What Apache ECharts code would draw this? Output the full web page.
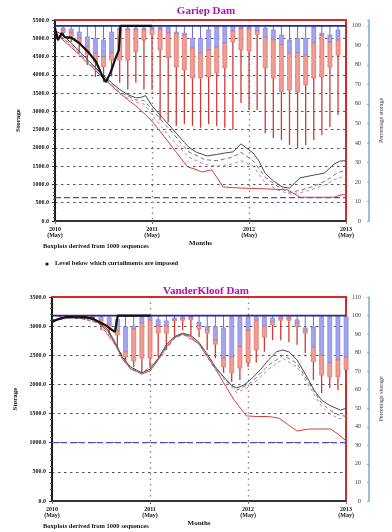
<!DOCTYPE html>
<html><head><meta charset="utf-8">
<script src="https://cdn.jsdelivr.net/npm/echarts@6/dist/echarts.min.js"></script>
<style>html,body{margin:0;padding:0;background:#fff}#c{width:392px;height:532px}</style>
</head><body><div id="c"></div><script>
// ---- shared axis text ----
const xTickLabels = ['2010\n(May)', '2011\n(May)', '2012\n(May)', '2013\n(May)'];

// ---- Gariep Dam (million m3) ----
const gariepCapacity = 5340;
const gariepCurtail = 640;
const gariepBoxMonth = [1,2,3,4,5,6,7,8,9,10,11,12,13,14,15,16,17,18,19,20,21,22,23,24,25,26,27,28,29,30,31,32,33,34,35];
const gariepQ3  = [5280,5250,5170,5040,5000,4950,5170,5280,5280,5280,5280,5300,5300,5300,5170,5140,5000,5000,5230,5310,5310,5320,5310,5310,5300,5280,5230,5090,4950,5000,5000,5310,5140,5090,5230];
const gariepMed = [5220,5150,5000,4770,4590,4490,4600,5230,5230,5230,5230,5250,5250,5140,5120,5090,4730,4600,4680,4760,4870,5200,5260,5260,5200,5030,4950,4820,4600,4600,4540,4870,5090,4900,4950];
const gariepQ1  = [5150,5050,4870,4550,4350,4220,4400,4400,4400,4630,4950,5100,4680,4460,4210,4130,3910,3910,3940,4050,4190,4900,4680,4650,5100,4190,3910,3530,3580,3530,3720,3910,3940,4210,4540];
const gariepMin = [5090,4900,4600,4270,3940,3800,3950,3780,3600,3780,3600,3580,2760,2700,2600,2650,2600,2550,2650,2600,2550,2500,3230,3040,3040,2400,2270,2215,2080,2000,2080,2215,2350,2570,2900];
const gariepObserved = [[0,5280],[0.35,4950],[0.85,5140],[1.2,5030],[2,5020],[3,4870],[4.2,4600],[5.1,4350],[5.8,3990],[6.3,3800],[6.9,4080],[7.5,4460],[7.9,4680],[8.1,5340],[12,5340]];
const gariepMedian = [[0,5200],[0.5,5150],[1,5080],[2,4870],[3,4650],[4,4420],[5,4200],[6,3980],[7,3780],[8,3600],[9,3460],[10,3370],[10.6,3380],[11.2,3430],[12,3150],[13,2900],[14,2650],[15,2400],[16,2150],[16.5,2030],[17.5,1880],[18.8,1780],[20,1820],[21,1860],[22,1890],[23,2110],[24.5,1860],[25.2,1650],[26,1300],[27,1100],[28.1,930],[29,900],[30.3,1180],[32.1,1260],[33.3,1310],[34.5,1550],[35.2,1640],[36,1650]];
const gariepMean = [[0,5180],[2,4820],[4,4380],[6,3950],[8,3530],[10,3310],[11,3300],[12,3050],[14,2550],[16.5,1900],[18.5,1680],[20,1650],[22,1750],[23,1880],[24.5,1650],[26,1200],[27.5,950],[29,780],[30.5,850],[32,950],[33.5,1100],[35,1330],[36,1380]];
const gariepUpperMean = [[0,5170],[2,4800],[4,4350],[6,3920],[8,3480],[10,3250],[11,3200],[12,2900],[14,2350],[16.5,1750],[18.5,1550],[20,1500],[22,1560],[23,1650],[24.5,1500],[26,1050],[27.5,850],[29,740],[30.5,780],[32,880],[33.5,1000],[35,1180],[36,1220]];
const gariepLow = [[0,5150],[1,4950],[2,4750],[3,4550],[4,4330],[5,4120],[6,3900],[7,3700],[8,3500],[9,3320],[10,3150],[11,2950],[12,2730],[13,2450],[14,2170],[15,1880],[16.4,1480],[17.3,1420],[18.2,1340],[19.4,1400],[20.8,930],[23,900],[26,880],[28.8,850],[30.3,650],[34.5,650],[35.5,720],[36,720]];

// ---- VanderKloof Dam (million m3) ----
const vkCapacity = 3180;
const vkCurtail = 1000;
const vkBoxMonth = [1,2,3,4,5,6,7,8,9,10,11,12,13,14,15,16,17,18,19,20,21,22,23,24,25,26,27,28,29,30,31,32,33,34,35,36];
const vkQ3  = [3178,3178,3178,3175,3175,3170,3150,3120,2990,3000,3150,3170,3110,3090,3140,3160,3165,3070,2990,2990,2970,3160,3160,3160,3160,3160,3140,3160,3160,3110,2970,2990,3160,3160,3160,3160];
const vkMed = [3170,3168,3165,3160,3160,3100,3030,2920,2560,2950,3050,3100,3000,3000,3110,3130,3140,3010,2940,2760,2450,2470,2650,2930,3100,3000,3080,3130,3130,3050,2920,2640,2500,2370,2420,2470];
const vkQ1  = [3160,3158,3150,3145,3140,3060,2980,2850,2470,2400,2450,2450,2880,2880,3090,3100,3110,2950,2880,2690,2300,2200,2280,2370,2590,2810,3020,3100,3100,2990,2880,2390,2160,2130,2130,2250];
const vkMin = [3140,3130,3120,3100,3080,2930,2850,2620,2390,2300,2215,2280,2470,2590,2810,2930,2850,2810,2590,2450,2200,2040,2075,2300,2370,2560,2760,2760,2730,2680,2540,2075,1850,1940,1900,2000];
const vkObserved = [[0,3070],[0.6,3110],[1.8,3160],[3,3150],[4,3155],[5.1,3120],[6.5,3020],[7.2,2950],[7.7,2900],[8.05,3180],[12,3180]];
const vkMedian = [[0,3100],[1.5,3150],[3,3160],[5,3150],[5.7,3070],[6.9,2930],[7.8,2700],[8.6,2470],[9.6,2300],[11,2200],[12,2260],[13,2450],[14,2680],[15,2820],[16,2880],[17,2840],[18,2720],[19,2520],[20,2300],[21,2130],[22,1980],[22.6,1940],[23.5,1990],[24.3,2080],[25.5,2250],[26.5,2420],[27.5,2560],[28.2,2590],[29,2560],[30,2420],[31,2180],[32.1,1900],[33,1730],[34,1640],[35.3,1560],[36,1590]];
const vkMean = [[0,3100],[3,3155],[5.7,3060],[7.8,2680],[9.6,2280],[11,2190],[13,2430],[15,2800],[16,2870],[18,2700],[20,2270],[22.6,1900],[24.3,2020],[26.5,2330],[28.3,2500],[30,2360],[32,1900],[33,1680],[34,1560],[35,1480],[36,1450]];
const vkUpperMean = [[0,3100],[3,3150],[5.7,3050],[7.8,2660],[9.6,2260],[11,2180],[13,2420],[15,2790],[16,2860],[18,2690],[20,2250],[22.6,1860],[24.3,1970],[26.5,2260],[28.3,2440],[30,2300],[32,1850],[33,1620],[34,1500],[35,1420],[36,1400]];
const vkLow = [[0,3090],[1.5,3140],[3,3150],[5,3140],[5.7,3050],[6.9,2900],[7.8,2670],[8.6,2440],[9.6,2270],[11,2180],[12,2230],[13,2420],[14,2650],[15,2800],[16,2860],[17,2820],[18,2690],[19,2480],[20,2270],[21,2030],[22.3,1730],[23.8,1460],[25,1450],[26.5,1450],[27.8,1420],[29,1300],[30,1200],[31.4,1235],[34.1,1235],[35,1150],[36,1030]];

// ---- styling helpers ----
const SERIF = "'Liberation Serif','DejaVu Serif',serif";
const boldText = (size) => ({ fontFamily: SERIF, fontWeight: 'bold', fontSize: size, color: '#111' });

function boxRenderer(capacity) {
  return function (params, api) {
    const m = api.value(0);
    const pTop = api.coord([m, capacity]);
    const pQ3 = api.coord([m, api.value(1)]);
    const pMed = api.coord([m, api.value(2)]);
    const pQ1 = api.coord([m, api.value(3)]);
    const pLo = api.coord([m, api.value(4)]);
    const w = api.size([1, 0])[0] * 0.5;
    const x = pQ3[0];
    return {
      type: 'group',
      children: [
        { type: 'line', shape: { x1: x, y1: pTop[1], x2: x, y2: pQ3[1] }, style: { stroke: '#6b6bd6', lineWidth: 1 } },
        { type: 'line', shape: { x1: x, y1: pQ1[1], x2: x, y2: pLo[1] }, style: { stroke: '#d03838', lineWidth: 1.3 } },
        { type: 'rect', shape: { x: x - w / 2, y: pQ3[1], width: w, height: pMed[1] - pQ3[1] }, style: { fill: '#a3a3ee', stroke: '#7c7cdc', lineWidth: 0.6 } },
        { type: 'rect', shape: { x: x - w / 2, y: pMed[1], width: w, height: pQ1[1] - pMed[1] }, style: { fill: '#f09c92', stroke: '#d8665c', lineWidth: 0.6 } }
      ]
    };
  };
}

function bottomAxis(grid) {
  return {
    gridIndex: grid, type: 'value', min: 0, max: 36, interval: 12,
    axisLine: { onZero: false, lineStyle: { color: '#333', width: 2 } },
    axisTick: { show: true, length: 3, lineStyle: { color: '#777' } },
    axisLabel: { ...boldText(6), lineHeight: 6.5, margin: 5, formatter: v => xTickLabels[v / 12] },
    splitLine: { show: true, lineStyle: { color: '#8a8a8a', type: [1.5, 4], width: 1.4 } },
    name: 'Months', nameLocation: 'middle', nameGap: 11, nameTextStyle: boldText(7)
  };
}
function topBorder(grid) {
  return {
    gridIndex: grid, type: 'value', min: 0, max: 36, position: 'top',
    axisLine: { onZero: false, lineStyle: { color: '#d42a2a', width: 2 } },
    axisTick: { show: false }, axisLabel: { show: false }, splitLine: { show: false }
  };
}
function storageAxis(grid, max, gap) {
  return {
    gridIndex: grid, type: 'value', min: 0, max: max, interval: 500, position: 'left',
    axisLine: { show: true, onZero: false, lineStyle: { color: '#1a1a1a', width: 2 } },
    axisTick: { show: true, length: 3, lineStyle: { color: '#333' } },
    minorTick: { show: true, splitNumber: 5, length: 2, lineStyle: { color: '#555' } },
    axisLabel: { ...boldText(6), margin: 6, formatter: v => v.toFixed(1) },
    splitLine: { show: true, lineStyle: { color: '#555', type: [2.5, 3.5], width: 1 } },
    name: 'Storage', nameLocation: 'middle', nameGap: gap, nameRotate: 90, nameTextStyle: boldText(7)
  };
}
function percentAxis(grid, max) {
  return {
    gridIndex: grid, type: 'value', min: 0, max: max, interval: 10, position: 'right', offset: 23,
    axisLine: { show: true, onZero: false, lineStyle: { color: '#79a9dc', width: 1.5 } },
    axisTick: { show: true, inside: true, length: 2, lineStyle: { color: '#79a9dc' } },
    axisLabel: { inside: true, margin: 8, fontFamily: SERIF, fontSize: 6, color: '#333',
      formatter: v => (v % 10 === 0 ? String(v) : '') },
    splitLine: { show: false },
    name: 'Percentage storage', nameLocation: 'middle', nameGap: 8, nameRotate: 90,
    nameTextStyle: { fontFamily: SERIF, fontSize: 6, color: '#333' }
  };
}
function rightBorder(grid, max) {
  return {
    gridIndex: grid, type: 'value', min: 0, max: max, position: 'right', offset: 0,
    axisLine: { show: true, onZero: false, lineStyle: { color: '#d42a2a', width: 2 } },
    axisTick: { show: false }, axisLabel: { show: false }, splitLine: { show: false }
  };
}

function lineSeries(xi, yi, data, color, width, type, z) {
  return { type: 'line', xAxisIndex: xi, yAxisIndex: yi, data: data, showSymbol: false, silent: true,
    lineStyle: { color: color, width: width, type: type }, z: z };
}

function damSeries(xi, yi, months, q3, med, q1, lo, capacity, curtail, observed, median, mean, upperMean, low) {
  return [
    { type: 'custom', xAxisIndex: xi, yAxisIndex: yi, renderItem: boxRenderer(capacity), silent: true, z: 2,
      encode: { x: 0, y: [1, 2, 3, 4] },
      data: months.map((m, i) => [m, q3[i], med[i], q1[i], lo[i]]) },
    lineSeries(xi, yi, [[0, capacity], [36, capacity]], '#272790', 1.6, 'solid', 3),
    lineSeries(xi, yi, [[0, curtail], [36, curtail]], '#4a4ad6', 1.2, [6, 3], 3),
    lineSeries(xi, yi, low, '#d24040', 1, 'solid', 4),
    lineSeries(xi, yi, upperMean, '#c878c8', 1, [3, 3], 4),
    lineSeries(xi, yi, mean, '#777', 1, [4, 3], 4),
    lineSeries(xi, yi, median, '#4a4a4a', 1, 'solid', 5),
    lineSeries(xi, yi, observed, '#111', 2.2, 'solid', 6)
  ];
}

const chart = echarts.init(document.getElementById('c'), null, { renderer: 'canvas' });
chart.setOption({
  animation: false,
  backgroundColor: '#fff',
  title: [
    { text: 'Gariep Dam', left: 201, top: 1, textAlign: 'center',
      textStyle: { fontFamily: SERIF, fontWeight: 'bold', fontSize: 11, color: '#b010b8' } },
    { text: 'VanderKloof Dam', left: 201, top: 281, textAlign: 'center',
      textStyle: { fontFamily: SERIF, fontWeight: 'bold', fontSize: 11, color: '#b010b8' } }
  ],
  grid: [
    { left: 55, top: 20, width: 297, height: 201 },
    { left: 52, top: 297, width: 304, height: 204 }
  ],
  xAxis: [bottomAxis(0), topBorder(0), bottomAxis(1), topBorder(1)],
  yAxis: [
    storageAxis(0, 5500, 27), percentAxis(0, 103), rightBorder(0, 5500),
    storageAxis(1, 3500, 29), percentAxis(1, 110), rightBorder(1, 3500)
  ],
  series: [
    ...damSeries(0, 0, gariepBoxMonth, gariepQ3, gariepMed, gariepQ1, gariepMin, gariepCapacity, gariepCurtail,
      gariepObserved, gariepMedian, gariepMean, gariepUpperMean, gariepLow),
    ...damSeries(2, 3, vkBoxMonth, vkQ3, vkMed, vkQ1, vkMin, vkCapacity, vkCurtail,
      vkObserved, vkMedian, vkMean, vkUpperMean, vkLow)
  ],
  graphic: [
    { type: 'text', left: 43, top: 243, style: { text: 'Boxplots derived from 1000 sequences', font: "bold 6.5px 'Liberation Serif', serif", fill: '#111' } },
    { type: 'circle', shape: { cx: 47, cy: 264, r: 1.6 }, style: { fill: '#111' } },
    { type: 'text', left: 55, top: 260, style: { text: 'Level below which curtailments are imposed', font: "bold 6.5px 'Liberation Serif', serif", fill: '#111' } },
    { type: 'text', left: 43, top: 523, style: { text: 'Boxplots derived from 1000 sequences', font: "bold 6.5px 'Liberation Serif', serif", fill: '#111' } }
  ]
});
</script></body></html>
